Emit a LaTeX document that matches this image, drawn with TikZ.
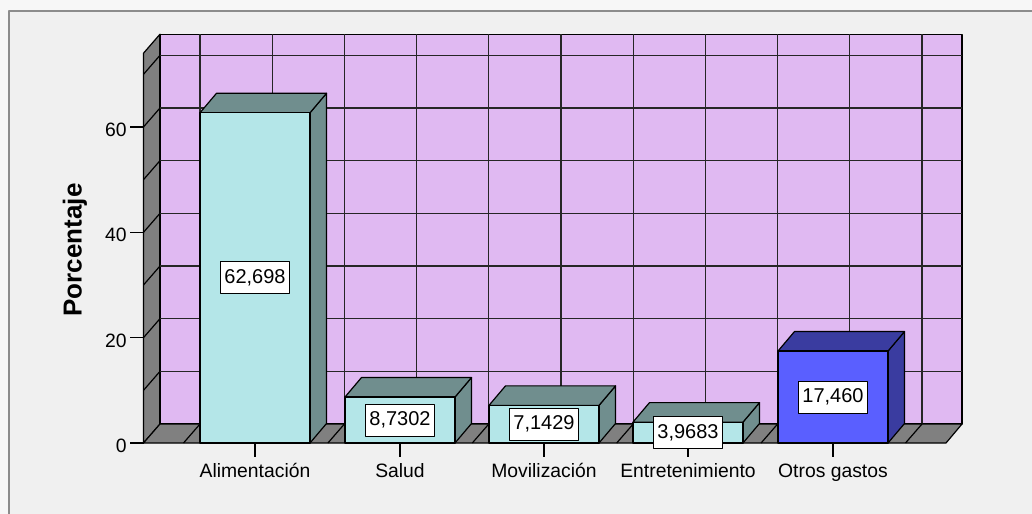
\documentclass[tikz,border=0pt]{standalone}
\usepackage{fontspec}
\setmainfont{Liberation Sans}
\definecolor{bgc}{RGB}{240,240,240}
\definecolor{outc}{RGB}{247,247,247}
\definecolor{wallc}{RGB}{224,185,242}
\definecolor{sidec}{RGB}{128,128,128}
\definecolor{barf}{RGB}{180,230,232}
\definecolor{bars}{RGB}{112,142,142}
\definecolor{blf}{RGB}{90,95,255}
\definecolor{bls}{RGB}{58,60,160}
\newcommand\drawbar[6]{%
  \pgfmathsetmacro\tp{443-5.267*#2}%
  \filldraw[fill=#4,edge] (#1+110,443) -- (#1+126.5,423.5) -- (#1+126.5,\tp-19.5) -- (#1+110,\tp) -- cycle;
  \filldraw[fill=#4,edge] (#1,\tp) -- (#1+16.5,\tp-19.5) -- (#1+126.5,\tp-19.5) -- (#1+110,\tp) -- cycle;
  \filldraw[fill=#3,edge] (#1,443) rectangle (#1+110,\tp);
  \node[vlab] (#5) at (#1+55,{(443+\tp)/2}) {#6};
}
\begin{document}
\begin{tikzpicture}[x=0.75pt,y=-0.75pt,line join=round,
  edge/.style={draw=black,line width=0.9pt},
  gridl/.style={draw=black!85,line width=0.9pt},
  vlab/.style={draw=black,fill=white,line width=0.75pt,inner xsep=3pt,inner ysep=0pt,minimum height=24pt,font=\fontsize{15pt}{17pt}\selectfont},
  tlab/.style={font=\fontsize{14.5pt}{17pt}\selectfont,inner sep=0pt}]
\useasboundingbox (0,0) rectangle (1032,514);
\fill[outc] (0,0) rectangle (1032,514);
\fill[bgc] (9,11) rectangle (1032,514);
\draw[black!45,line width=1.2pt] (9,514) -- (9,11) -- (1032,11);
% side wall
\filldraw[fill=sidec,edge] (143.5,443) -- (160,424) -- (160,34.2) -- (143.5,53.2) -- cycle;
\foreach \v in {10,20,...,70} \draw[edge] (143.5,{443-5.267*\v}) -- (160,{424-5.267*\v});
% back wall
\filldraw[fill=wallc,edge] (160,424) rectangle (962,34.2);
\foreach \v in {10,20,...,70} \draw[gridl] (160,{424-5.267*\v}) -- (962,{424-5.267*\v});
\foreach \k in {0,...,10} \draw[gridl] ({200+72.2*\k},34.2) -- ({200+72.2*\k},424);
% floor
\filldraw[fill=sidec,edge] (143.5,443) -- (946,443) -- (962,424) -- (160,424) -- cycle;
\foreach \k in {0,...,10} \draw[edge] ({183.5+72.2*\k},443) -- ({200+72.2*\k},424);
% y ticks
\foreach \v in {0,20,40,60} {
  \draw[edge] (130,{443-5.267*\v}) -- (143.5,{443-5.267*\v});
  \node[tlab,anchor=east] (y\v) at (127,{446-5.267*\v}) {\v};
}
% x ticks and labels
\foreach \c/\t/\n in {255/Alimentación/a,400/Salud/b,544/Movilización/c,688/Entretenimiento/d,833/Otros gastos/e} {
  \draw[edge] (\c,443) -- (\c,457);
  \node[tlab,anchor=base] (x\n) at (\c,477) {\t};
}
% bars
\drawbar{200}{62.698}{barf}{bars}{va}{62,698}
\drawbar{345}{8.7302}{barf}{bars}{vb}{8,7302}
\drawbar{489}{7.1429}{barf}{bars}{vc}{7,1429}
\drawbar{633}{3.9683}{barf}{bars}{vd}{3,9683}
\drawbar{778}{17.460}{blf}{bls}{ve}{17,460}
% axis title
\node[rotate=90,inner sep=0pt,font=\fontsize{19.5pt}{22pt}\selectfont\bfseries] (ytitle) at (75,250) {Porcentaje};
\end{tikzpicture}
\end{document}
